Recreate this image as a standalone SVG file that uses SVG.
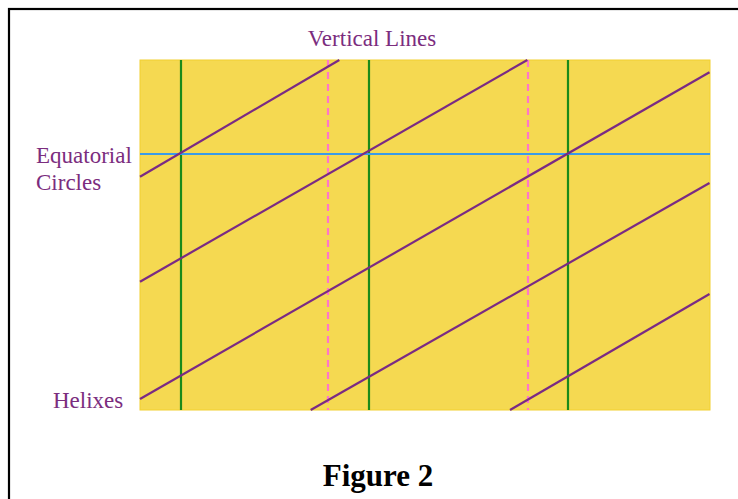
<svg xmlns="http://www.w3.org/2000/svg" width="738" height="499" viewBox="0 0 738 499">
  <style>
    .lbl { font-family: "Liberation Serif", "Times New Roman", serif; font-size: 23px; fill: #7B2D7E; }
    .title { font-family: "Liberation Serif", "Times New Roman", serif; font-size: 31px; font-weight: bold; fill: #000; }
    .vert { stroke: #1A8A1A; stroke-width: 2.2; fill: none; }
    .dash { stroke: #FF77C8; stroke-width: 2.2; stroke-dasharray: 7 5; fill: none; }
    .helix { stroke: #7A2A84; stroke-width: 2.2; fill: none; }
    .equator { stroke: #3A9BE8; stroke-width: 2.2; fill: none; }
  </style>
  <rect x="0" y="0" width="738" height="499" fill="#ffffff"/>
  <rect id="frame" x="9" y="9" width="740" height="500" fill="none" stroke="#000" stroke-width="2.2"/>
  <g id="surface">
    <rect x="140" y="60" width="570" height="350" fill="#F5D951" stroke="#F2D030" stroke-width="1"/>
  </g>
  <g id="connectors">
    <g id="vertical-lines">
      <line class="vert" x1="181" y1="60" x2="181" y2="410"/>
      <line class="vert" x1="369" y1="60" x2="369" y2="410"/>
      <line class="vert" x1="568" y1="60" x2="568" y2="410"/>
      <line class="dash" x1="328" y1="60" x2="328" y2="410"/>
      <line class="dash" x1="528" y1="60" x2="528" y2="410"/>
    </g>
    <g id="equatorial-circle">
      <line class="equator" x1="140" y1="154" x2="710" y2="154"/>
    </g>
    <g id="helixes">
      <line class="helix" x1="140" y1="176.7" x2="339.3" y2="60"/>
      <line class="helix" x1="140" y1="281.7" x2="527.3" y2="60"/>
      <line class="helix" x1="140" y1="399" x2="709.5" y2="72.3"/>
      <line class="helix" x1="310.7" y1="410" x2="709.5" y2="183"/>
      <line class="helix" x1="510" y1="410" x2="709.5" y2="294"/>
    </g>
  </g>
  <g id="label-vertical">
    <text class="lbl" x="372" y="46" text-anchor="middle">Vertical Lines</text>
  </g>
  <g id="label-equatorial">
    <text class="lbl" x="36" y="163">Equatorial</text>
    <text class="lbl" x="36" y="189.5">Circles</text>
  </g>
  <g id="label-helixes">
    <text class="lbl" x="53" y="408">Helixes</text>
  </g>
  <g id="caption">
    <text class="title" x="378" y="486" text-anchor="middle">Figure 2</text>
  </g>
</svg>
